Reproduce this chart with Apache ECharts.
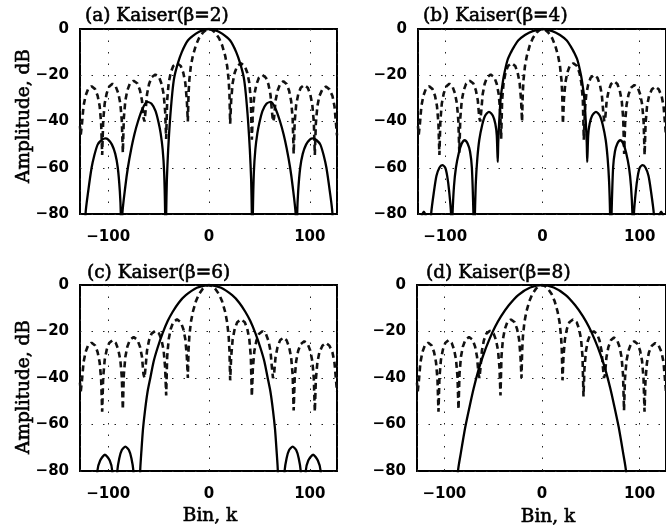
<!DOCTYPE html>
<html>
<head>
<meta charset="utf-8">
<script src="https://cdn.jsdelivr.net/npm/echarts@6/dist/echarts.min.js"></script>
<style>
html,body{margin:0;padding:0;background:#fff;}
#chart{width:666px;height:531px;}
</style>
</head>
<body>
<div id="chart"></div>
<script>
// ---------------- data ----------------
const panelTitles = ['(a) Kaiser(\u03b2=2)', '(b) Kaiser(\u03b2=4)', '(c) Kaiser(\u03b2=6)', '(d) Kaiser(\u03b2=8)'];
const xTickLabels = [-100, 0, 100];
const yTickLabels = [0, -20, -40, -60, -80];
const yAxisTitle = 'Amplitude, dB';
const xAxisTitle = 'Bin, k';

// dashed reference spectrum [bin, dB] (same in every panel)
const dashedSpectrum = [
 [-128,-42],[-127.3,-46],[-126,-40.8],[-124.5,-33.3],[-122.5,-28.9],[-120,-26],[-116.5,-24.8],[-113,-26],[-110.5,-28.9],[-108.5,-33.3],[-107,-40.8],[-106,-54.5],
 [-105,-39.7],[-103.5,-32.2],[-101.5,-27.8],[-99,-24.9],[-95.75,-23.7],[-92.5,-24.9],[-90,-27.8],[-88,-32.2],[-86.5,-39.7],[-85.5,-53.5],
 [-84.5,-38.4],[-83,-30.9],[-81,-26.5],[-78.5,-23.6],[-74.75,-22.4],[-71,-23.6],[-68.5,-26.5],[-66.5,-30.9],[-65,-38.4],[-64,-40],
 [-63,-35.7],[-61.5,-28.2],[-59.5,-23.8],[-57,-20.9],[-53.25,-19.7],[-49.5,-20.9],[-47,-23.8],[-45,-28.2],[-43.5,-35.7],[-42.5,-47.5],
 [-41.5,-30.8],[-40,-23.3],[-38,-18.9],[-35.5,-16],[-31.75,-14.8],[-28,-16],[-25.5,-18.9],[-23.5,-23.3],[-22,-30.8],[-21,-40],
 [-20.3,-28],[-19.5,-22],[-18,-16],[-16,-11.5],[-13,-7],[-10,-4],[-6,-1.5],[-3,-0.4],[0,0],[3,-0.4],[6,-1.5],[10,-4],[13,-7],[16,-11.5],[18,-16],[19.5,-22],[20.3,-28],[21,-41],
 [22,-30.8],[23.5,-23.3],[25.5,-18.9],[28,-16],[31.75,-14.8],[35.5,-16],[38,-18.9],[40,-23.3],[41.5,-30.8],[42.5,-47.9],
 [43.5,-35.9],[45,-28.4],[47,-24],[49.5,-21.1],[53,-19.9],[56.5,-21.1],[59,-24],[61,-28.4],[62.5,-35.9],[63.5,-40],
 [64.5,-38.6],[66,-31.1],[68,-26.7],[70.5,-23.8],[73.75,-22.6],[77,-23.8],[79.5,-26.7],[81.5,-31.1],[83,-38.6],[84,-54],
 [85,-40.2],[86.5,-32.7],[88.5,-28.3],[91,-25.4],[94.5,-24.2],[98,-25.4],[100.5,-28.3],[102.5,-32.7],[104,-40.2],[105,-54.5],
 [106,-40.9],[107.5,-33.4],[109.5,-29],[112.5,-26.1],[116,-24.9],[119.5,-26.1],[122.5,-29],[124.5,-33.4],[126,-40.9],[127,-46]
];

// Kaiser beta = 2
const kaiserBeta2 = [
 [-123,-100],[-122.5,-80],[-119.8,-70],[-116.5,-60],[-114,-55],[-110.5,-50],[-106.5,-48],[-103,-47.3],[-100,-47.8],[-96.3,-50],[-93,-54],[-90.5,-60],[-88.5,-70],[-87.5,-80],[-87,-100],
 [-86,-80],[-83,-68],[-80.5,-60],[-77,-51.5],[-74,-45.5],[-70.5,-40],[-66,-34.5],[-61.5,-31.5],[-57,-32.3],[-53,-35.5],[-50,-40.5],[-48,-45],[-46,-52],[-44.5,-62],[-43.5,-80],[-43,-100],
 [-42.5,-80],[-41.8,-65],[-40.5,-52],[-38.8,-40],[-36.5,-28],[-34.5,-21],[-31,-15],[-27,-10],[-21,-5],[-13,-2],[-6,-0.5],[0,0],[6,-0.5],[13,-2],[21,-5],[27,-10],[31,-15],[34.5,-21],[36.5,-28],[38.8,-40],[40.5,-52],[41.8,-65],[42.5,-80],
 [43,-100],[43.5,-80],[44.5,-62],[46,-52],[48,-45],[50,-40.5],[53,-35.5],[57,-32.3],[61.5,-31.5],[66,-34.5],[70.5,-40],[74,-45.5],[77,-51.5],[80.5,-60],[83,-68],[86,-80],
 [87,-100],[87.5,-80],[88.5,-70],[90.5,-60],[93,-54],[96.3,-50],[100,-47.8],[103,-47.3],[106.5,-48],[110.5,-50],[114,-55],[116.5,-60],[119.8,-70],[122.5,-80],[123,-100]
];

// Kaiser beta = 4
const kaiserBeta4 = [
 [-127,-100],[-124,-81],[-122,-79],[-120,-81],[-116,-95],
 [-115,-90],[-114.5,-80],[-111.5,-70],[-109,-63.5],[-106,-60],[-103,-58.9],[-100,-60],[-98,-63.5],[-96,-70],[-94,-80],[-93.5,-95],
 [-93,-95],[-92.5,-80],[-91,-68],[-89,-60],[-86,-53.5],[-83,-49.5],[-80,-48.1],[-77,-49.5],[-74.5,-53],[-72.6,-60],[-71,-80],[-70.5,-95],
 [-70,-95],[-69.5,-80],[-68.5,-66],[-67,-56],[-65,-48],[-62,-41.5],[-59,-37.5],[-55,-35.8],[-51,-37.5],[-48.5,-41],[-47,-46],[-46,-57.5],
 [-45.5,-49],[-44.5,-40],[-43,-30],[-41.5,-25],[-39.6,-20],[-36,-13.5],[-32.3,-10],[-29,-7.5],[-25,-5],[-18,-2.6],[-10,-0.9],[0,0],[10,-0.9],[18,-2.6],[25,-5],[29,-7.5],[32.3,-10],[36,-13.5],[39.6,-20],[41.5,-25],[43,-30],[44.5,-40],[45.5,-49],
 [46,-57.5],[47,-46],[48.5,-41],[51,-37.5],[55,-35.8],[59,-37.5],[62,-41.5],[65,-48],[67,-56],[68.5,-66],[69.5,-80],[70,-95],
 [70.5,-95],[71,-80],[72.6,-60],[74.5,-53],[77,-49.5],[80,-48.1],[83,-49.5],[86,-53.5],[89,-60],[91,-68],[92.5,-80],[93,-95],
 [93.5,-95],[94,-80],[96,-70],[98,-63.5],[100,-60],[103,-58.9],[106,-60],[109,-63.5],[111.5,-70],[114.5,-80],[115,-90],
 [116,-95],[120,-81],[122,-79],[124,-81],[127,-100]
];

// Kaiser beta = 6
const kaiserBeta6 = [
 [-113,-100],[-110.8,-80],[-108,-75.5],[-103.3,-73],[-98.5,-75.5],[-96,-80],[-94,-100],
 [-93,-100],[-91,-80],[-89,-74.5],[-86.5,-71],[-83,-69.5],[-79.5,-71],[-77,-74.5],[-75,-80],[-73,-100],
 [-69,-100],[-68.3,-80],[-67,-71],[-65.5,-62],[-63.5,-54],[-61,-46],[-58,-39.5],[-55,-33],[-51,-27],[-46,-20.7],[-41,-15.5],[-36,-11.5],[-30,-7.6],[-23,-4.4],[-12,-1.2],[0,0],
 [12,-1.2],[23,-4.4],[30,-7.6],[36,-11.5],[41,-15.5],[46,-20.7],[51,-27],[55,-33],[58,-39.5],[61,-46],[63.5,-54],[65.5,-62],[67,-71],[68.3,-80],[69,-100],
 [73,-100],[75,-80],[77,-74.5],[79.5,-71],[83,-69.5],[86.5,-71],[89,-74.5],[91,-80],[93,-100],
 [94,-100],[96,-80],[98.5,-75.5],[103.3,-73],[108,-75.5],[110.8,-80],[113,-100]
];

// Kaiser beta = 8
const kaiserBeta8 = [
 [-87,-95],[-86,-80],[-83,-72],[-78.5,-61],[-74,-52],[-70,-44.5],[-65,-36.5],[-60,-30],[-54,-23.5],[-48,-18],[-42,-13.5],[-34,-8.7],[-24,-4.2],[-12,-1.1],[0,0],
 [12,-1.1],[24,-4.2],[34,-8.7],[42,-13.5],[48,-18],[54,-23.5],[60,-30],[65,-36.5],[70,-44.5],[74,-52],[78.5,-61],[83,-72],[86,-80],[87,-95]
];

const kaiserCurves = [kaiserBeta2, kaiserBeta4, kaiserBeta6, kaiserBeta8];

// ---------------- layout / styling ----------------
const gridBoxes = [
  {left: 80,  top: 29,  width: 257, height: 185},
  {left: 418, top: 29,  width: 258, height: 185},
  {left: 80,  top: 285, width: 257, height: 186},
  {left: 417, top: 285, width: 258, height: 186}
];
const titlePos = [[85, 16], [423, 16], [87, 273], [426, 273]];
const tickFont = {fontFamily: 'DejaVu Sans', fontWeight: 'bold', fontSize: 15, color: '#000'};
const serifStyle = {fontFamily: 'DejaVu Serif', fontWeight: 'normal', fontSize: 18.5, fill: '#000', stroke: '#000', lineWidth: 0.6};
const dotted = {color: '#222', width: 1, type: [1.5, 10]};
const fmt = v => String(v).replace('-', '\u2212');

const chart = echarts.init(document.getElementById('chart'), null, {renderer: 'canvas'});

const option = {
  animation: false,
  backgroundColor: '#fff',
  grid: gridBoxes.map(g => Object.assign({show: true, borderColor: '#000', borderWidth: 2, backgroundColor: 'transparent', containLabel: false}, g)),
  xAxis: gridBoxes.map((g, i) => ({
    type: 'value', gridIndex: i, min: -128, max: 127, splitNumber: 2,
    axisLine: {show: false}, axisTick: {show: false},
    axisLabel: Object.assign({margin: 16, showMinLabel: false, showMaxLabel: false,
      formatter: v => xTickLabels.indexOf(v) >= 0 ? fmt(v) : ''}, tickFont),
    splitLine: {show: true, lineStyle: dotted}
  })),
  yAxis: gridBoxes.map((g, i) => ({
    type: 'value', gridIndex: i, min: -80, max: 0, interval: 20,
    axisLine: {show: false}, axisTick: {show: false},
    axisLabel: Object.assign({margin: 11,
      formatter: v => yTickLabels.indexOf(v) >= 0 ? fmt(v) : ''}, tickFont),
    splitLine: {show: true, lineStyle: dotted}
  })),
  series: [],
  graphic: []
};

function textEl(x, y, text, rot) {
  return {type: 'text', x: x, y: y, rotation: rot || 0, silent: true,
          style: Object.assign({text: text, align: 'center', verticalAlign: 'middle'}, serifStyle)};
}

gridBoxes.forEach((g, i) => {
  option.series.push({
    type: 'line', xAxisIndex: i, yAxisIndex: i, data: dashedSpectrum,
    showSymbol: false, symbol: 'none', clip: true, silent: true,
    lineStyle: {color: '#111', width: 2.6, type: [6, 4]}
  });
  option.series.push({
    type: 'line', xAxisIndex: i, yAxisIndex: i, data: kaiserCurves[i],
    showSymbol: false, symbol: 'none', clip: true, silent: true, smooth: 0.25,
    lineStyle: {color: '#000', width: 2.3}
  });
  const t = textEl(titlePos[i][0], titlePos[i][1], panelTitles[i]);
  t.style.align = 'left';
  option.graphic.push(t);
});

option.graphic.push(
  textEl(24, 116, yAxisTitle, Math.PI / 2),
  textEl(24, 387, yAxisTitle, Math.PI / 2),
  textEl(210, 516, xAxisTitle),
  textEl(548, 517, xAxisTitle)
);

chart.setOption(option);
</script>
</body>
</html>
